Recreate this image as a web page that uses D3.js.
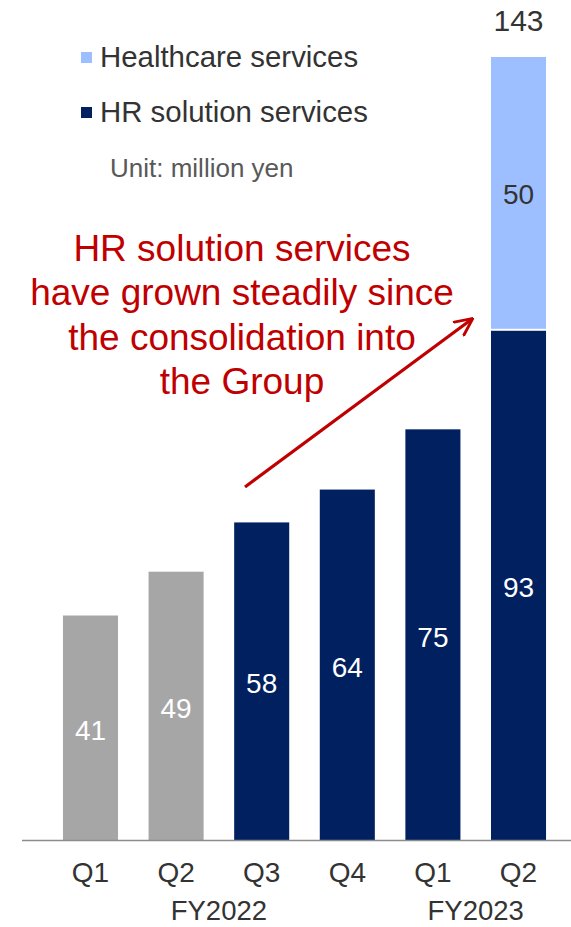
<!DOCTYPE html>
<html>
<head>
<meta charset="utf-8">
<script src="https://cdn.jsdelivr.net/npm/d3@7"></script>
<style>
  html, body { margin: 0; padding: 0; background: #fff; }
  svg { display: block; font-family: "Liberation Sans", Arial, sans-serif; }
</style>
</head>
<body>
<svg id="chart" width="571" height="927"></svg>
<script>
// Quarterly revenue by segment (million yen)
const quarters = ["Q1", "Q2", "Q3", "Q4", "Q1", "Q2"];
const fiscalYears = ["FY2022", "FY2023"];
const hrSolution = [41, 49, 58, 64, 75, 93];
const healthcare = [0, 0, 0, 0, 0, 50];
// Quarters before the consolidation into the Group
const preConsolidation = [true, true, false, false, false, false];
const legendItems = ["Healthcare services", "HR solution services"];
const unitLabel = "Unit: million yen";
const noteLines = ["HR solution services", "have grown steadily since", "the consolidation into", "the Group"];

const colors = { pre: "#A6A6A6", hr: "#002060", health: "#9DBEFF", note: "#C00000", text: "#333333" };

const svg = d3.select("#chart");
const idx = d3.range(quarters.length);

const x = d3.scaleBand().domain(idx).range([32.4, 576.6]).padding(0.357);
const y = d3.scaleLinear().domain([0, 143]).range([840, 57]);

// Bars: HR solution segment at the bottom, healthcare stacked above
const g = svg.append("g");
g.selectAll("rect.hr").data(idx).join("rect")
  .attr("class", "hr")
  .attr("x", i => x(i))
  .attr("width", x.bandwidth())
  .attr("y", i => y(hrSolution[i]))
  .attr("height", i => y(0) - y(hrSolution[i]))
  .attr("fill", i => preConsolidation[i] ? colors.pre : colors.hr);

g.selectAll("rect.hc").data(idx.filter(i => healthcare[i] > 0)).join("rect")
  .attr("class", "hc")
  .attr("x", i => x(i))
  .attr("width", x.bandwidth())
  .attr("y", i => y(hrSolution[i] + healthcare[i]))
  .attr("height", i => y(hrSolution[i]) - y(hrSolution[i] + healthcare[i]) - 2)
  .attr("fill", colors.health);

// Value labels
g.selectAll("text.hrv").data(idx).join("text")
  .attr("x", i => x(i) + x.bandwidth() / 2)
  .attr("y", i => (y(0) + y(hrSolution[i])) / 2 + 12)
  .attr("text-anchor", "middle")
  .attr("font-size", 28)
  .attr("fill", "#fff")
  .text(i => hrSolution[i]);

g.selectAll("text.hcv").data(idx.filter(i => healthcare[i] > 0)).join("text")
  .attr("x", i => x(i) + x.bandwidth() / 2)
  .attr("y", i => (y(hrSolution[i]) + y(hrSolution[i] + healthcare[i])) / 2 + 10)
  .attr("text-anchor", "middle")
  .attr("font-size", 28)
  .attr("fill", colors.text)
  .text(i => healthcare[i]);

g.selectAll("text.tot").data(idx.filter(i => healthcare[i] > 0)).join("text")
  .attr("x", i => x(i) + x.bandwidth() / 2)
  .attr("y", i => y(hrSolution[i] + healthcare[i]) - 26)
  .attr("text-anchor", "middle")
  .attr("font-size", 30)
  .attr("fill", colors.text)
  .text(i => hrSolution[i] + healthcare[i]);

// Category axis
const axis = svg.append("g").attr("transform", `translate(0,${y(0)})`)
  .call(d3.axisBottom(x).tickSize(0).tickPadding(22).tickFormat(i => quarters[i]));
axis.select(".domain").attr("d", "M22,0.5H571").attr("stroke", "#8c8c8c").attr("stroke-width", 1.5);
axis.selectAll("text").attr("font-size", 28).attr("fill", colors.text)
  .attr("font-family", "Liberation Sans, Arial, sans-serif");

// Fiscal year labels centred under their quarters
fiscalYears.forEach((fy, k) => {
  const cx = k === 0
    ? (x(1) + x(2) + x.bandwidth()) / 2
    : (x(4) + x(5) + x.bandwidth()) / 2;
  svg.append("text")
    .attr("x", cx)
    .attr("y", 920)
    .attr("text-anchor", "middle")
    .attr("font-size", 27.5)
    .attr("fill", colors.text)
    .text(fy);
});

// Legend
const legend = svg.append("g");
[colors.health, colors.hr].forEach((c, k) => {
  legend.append("rect").attr("x", 81).attr("y", 52 + k * 55).attr("width", 11).attr("height", 11).attr("fill", c);
  legend.append("text").attr("x", 100).attr("y", 67 + k * 55)
    .attr("font-size", 29.4).attr("fill", colors.text).text(legendItems[k]);
});
legend.append("text").attr("x", 110).attr("y", 177)
  .attr("font-size", 26).attr("fill", "#595959").text(unitLabel);

// Annotation
const note = svg.append("text").attr("text-anchor", "middle")
  .attr("font-size", 37).attr("fill", colors.note);
noteLines.forEach((line, k) => {
  note.append("tspan").attr("x", 242).attr("y", 261 + k * 44.3).text(line);
});

// Growth arrow
svg.append("defs").append("marker")
  .attr("id", "arrowhead").attr("viewBox", "0 0 10 10")
  .attr("refX", 9).attr("refY", 5).attr("markerWidth", 6).attr("markerHeight", 6)
  .attr("markerUnits", "strokeWidth").attr("orient", "auto")
  .append("path").attr("d", "M0,0.5 L9.5,5 L0,9.5").attr("fill", "none")
  .attr("stroke", colors.note).attr("stroke-width", 1.5);
svg.append("line")
  .attr("x1", 245).attr("y1", 487).attr("x2", 472).attr("y2", 319)
  .attr("stroke", colors.note).attr("stroke-width", 3.2)
  .attr("marker-end", "url(#arrowhead)");
</script>
</body>
</html>
